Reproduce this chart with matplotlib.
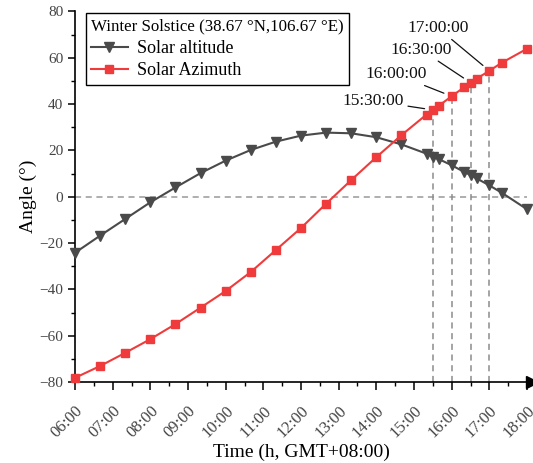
import matplotlib
matplotlib.use("Agg")
import matplotlib.pyplot as plt
import numpy as np

plt.rcParams['font.family'] = ['Liberation Serif', 'DejaVu Serif']
plt.rcParams['mathtext.fontset'] = 'stix'

# sample times (GMT+08:00) and angles
times = ["06:00", "06:40", "07:20", "08:00", "08:40", "09:20", "10:00", "10:40",
         "11:20", "12:00", "12:40", "13:20", "14:00", "14:40", "15:20", "15:30",
         "15:40", "16:00", "16:20", "16:30", "16:40", "17:00", "17:20", "18:00"]
altitude = [-24.2, -16.8, -9.6, -2.4, 4.0, 10.2, 15.6, 20.2,
            23.8, 26.4, 27.7, 27.4, 25.7, 22.6, 18.6, 17.3,
            16.2, 13.6, 10.7, 9.4, 7.9, 4.9, 1.7, -5.4]
azimuth = [-78.2, -73.1, -67.4, -61.5, -55.0, -47.9, -40.7, -32.5,
           -23.0, -13.5, -3.0, 7.2, 17.1, 26.6, 35.5, 37.5,
           39.4, 43.4, 47.3, 49.3, 51.0, 54.4, 57.9, 63.9]

marked_times = ["15:30", "16:00", "16:30", "17:00"]
marked_labels = ["15:30:00", "16:00:00", "16:30:00", "17:00:00"]
# label offsets from the marker, pixels (right edge of text)
label_offsets = [(-29, 9), (-25, 22), (-19, 33), (-21, 43)]

tick_labels = ["06:00", "07:00", "08:00", "09:00", "10:00", "11:00", "12:00",
               "13:00", "14:00", "15:00", "16:00", "17:00", "18:00"]


def to_hours(t):
    h, m = t.split(':')
    return int(h) + int(m) / 60.0


x = np.array([to_hours(t) for t in times])
alt = np.array(altitude)
azi = np.array(azimuth)

fig = plt.figure(figsize=(5.33, 4.63), dpi=100)
ax = fig.add_axes([75 / 533, 1 - 382 / 463, 452 / 533, (382 - 11.5) / 463])

gray = '#4a4a4a'
red = '#ef3b3b'

ax.axhline(0, color='#999999', linestyle=(0, (4, 3)), linewidth=1.1, zorder=1)

for t in marked_times:
    xv = to_hours(t)
    yv = azi[list(times).index(t)]
    ax.plot([xv, xv], [-80, yv], color='#8c8c8c', linestyle=(0, (4, 3)),
            linewidth=1.1, zorder=1)

ax.plot(x, alt, color=gray, marker='v', markersize=7, linewidth=1.5,
        label='Solar altitude', zorder=3, clip_on=False)
ax.plot(x, azi, color=red, marker='s', markersize=6, linewidth=1.5,
        label='Solar Azimuth', zorder=3, clip_on=False)

for t, lab, off in zip(marked_times, marked_labels, label_offsets):
    xv = to_hours(t)
    yv = azi[list(times).index(t)]
    ax.annotate(lab, xy=(xv, yv), xytext=off, textcoords='offset pixels',
                ha='right', va='center', fontsize=12.5, color='#111111',
                arrowprops=dict(arrowstyle='-', color='#111111', lw=0.9,
                                shrinkA=1, shrinkB=6))

ax.set_xlim(6, 18)
ax.set_ylim(-80, 80)
ax.set_xticks([6 + i for i in range(13)])
ax.set_xticks(np.arange(6.5, 18, 1.0), minor=True)
ax.set_xticklabels(tick_labels, rotation=45, ha='right', rotation_mode='anchor')
ax.set_yticks(np.arange(-80, 81, 20))
ax.set_yticks(np.arange(-70, 80, 20), minor=True)
ax.set_yticklabels([str(v).replace('-', '\u2212') for v in range(-80, 81, 20)])

for s in ['top', 'right']:
    ax.spines[s].set_visible(False)
for s in ['left', 'bottom']:
    ax.spines[s].set_linewidth(1.2)

ax.tick_params(axis='both', which='major', width=1.1, labelcolor='#444444')
ax.tick_params(axis='x', which='major', length=6, labelsize=12, pad=9)
ax.tick_params(axis='y', which='major', length=5, labelsize=11)
ax.tick_params(axis='both', which='minor', length=3, width=1.0)

# arrow at the end of the x axis
ax.plot(1.01, 0, marker='>', color='black', markersize=8,
        transform=ax.transAxes, clip_on=False)

ax.set_xlabel('Time (h, GMT+08:00)', fontsize=14, labelpad=2)
ax.set_ylabel('Angle (\u00b0)', fontsize=14, labelpad=2)

leg = ax.legend(loc='upper left', bbox_to_anchor=(86 / 533, 1 - 13 / 463),
                bbox_transform=fig.transFigure, borderaxespad=0,
                title='Winter Solstice (38.67 \u00b0N,106.67 \u00b0E)',
                title_fontsize=12.2, fontsize=13, fancybox=False,
                edgecolor='black', framealpha=1, handlelength=2.0,
                handletextpad=0.55, labelspacing=0.3, borderpad=0.3)
leg.get_frame().set_linewidth(1.0)
leg._legend_box.align = 'left'

fig.savefig('out.png', dpi=100)
